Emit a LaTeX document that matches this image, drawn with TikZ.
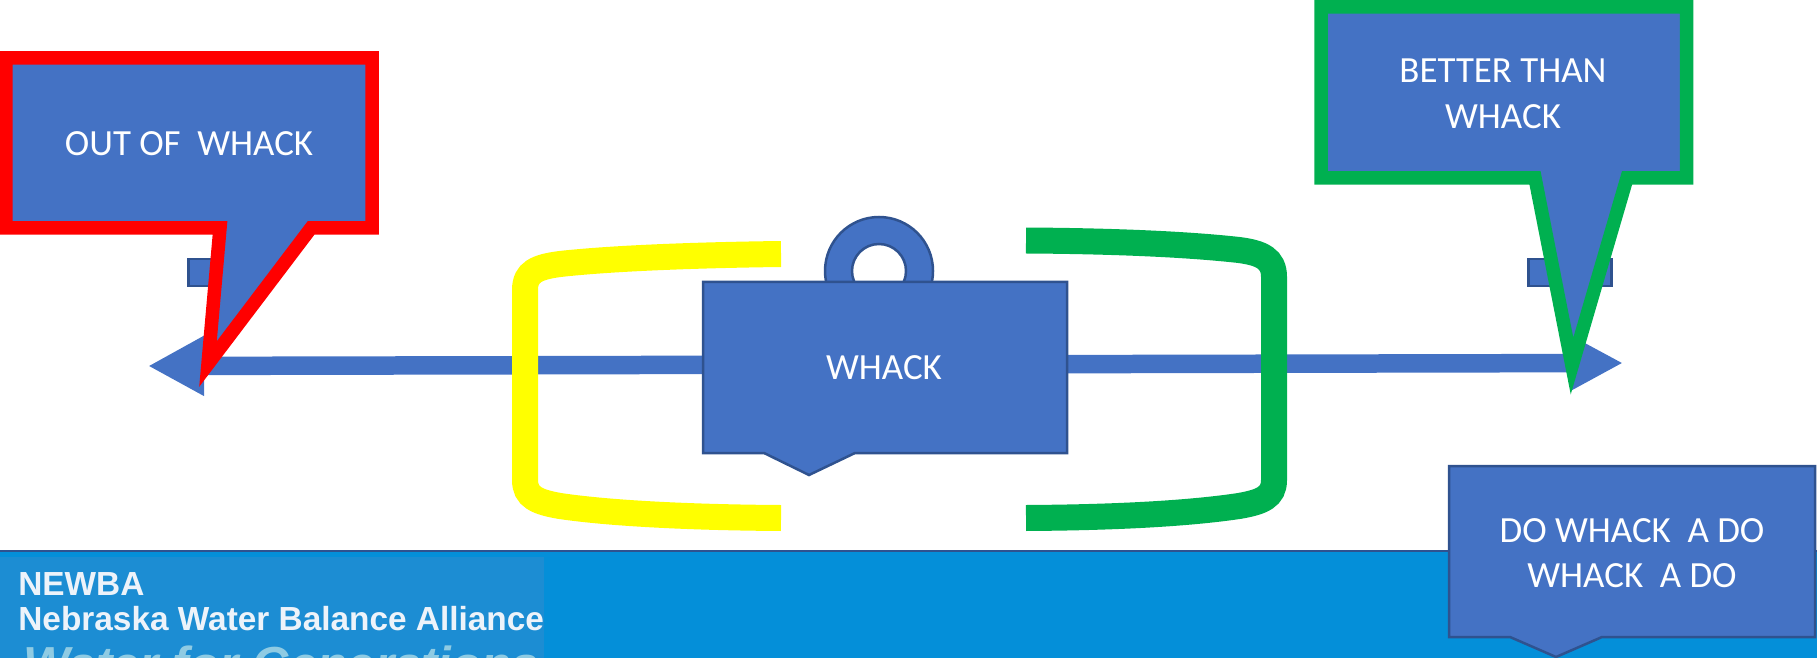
\documentclass[tikz,border=0pt]{standalone}
\usepackage{fontspec}
\setmainfont{Carlito}
\newfontfamily\logofont{Liberation Sans}
\usetikzlibrary{arrows.meta, positioning}
\definecolor{boxblue}{HTML}{4472C4}
\definecolor{boxedge}{HTML}{2F528F}
\definecolor{bandblue}{HTML}{048FD9}
\definecolor{logoblue}{HTML}{1C8DD3}
\definecolor{logotext}{HTML}{EDF3FA}
\definecolor{logotag}{HTML}{8FCBE3}
\definecolor{okgreen}{HTML}{00B050}
\definecolor{lowyellow}{HTML}{FFFF00}
\definecolor{badred}{HTML}{FF0000}

\begin{document}
\begin{tikzpicture}[
    x=0.02cm, y=-0.02cm,
    shapebox/.style={fill=boxblue, draw=boxedge, line width=0.05cm},
    callout/.style={fill=boxblue, line width=0.27cm, line join=miter, miter limit=10},
    bracket/.style={line width=0.52cm},
    caption/.style={font=\fontsize{21}{26}\selectfont, text=white, align=center},
    logoline/.style={font=\logofont\bfseries\fontsize{19}{19}\selectfont, text=logotext, anchor=west, inner sep=0pt}
  ]
  \path[use as bounding box, clip] (0,0) rectangle (1817,658);

  % --- Band and logo ---
  \draw[fill=bandblue, draw=boxedge, line width=0.05cm] (-5,551) rectangle (1825,665);
  \fill[logoblue] (0,557) rectangle (544,665);
  \node[logoline] (logotop) at (18,584) {NEWBA};
  \node[logoline] (logoname) at (18,619) {Nebraska Water Balance Alliance};
  \node[font=\logofont\bfseries\itshape\fontsize{28}{28}\selectfont, text=logotag, anchor=base west, inner sep=0pt]
    (logotag) at (23,681) {Water for Generations};

  % --- Scale line ---
  \coordinate (lefttip) at (148,366);
  \coordinate (righttip) at (1623,363);
  \draw[boxblue, line width=0.37cm, {Triangle[length=1.12cm, width=1.12cm]}-{Triangle[length=1.06cm, width=1.04cm]}]
    (lefttip) -- (righttip);
  \foreach \n/\x in {leftbar/187, rightbar/1527} {
    \node[shapebox, anchor=north west, minimum width=1.66cm, minimum height=0.54cm, inner sep=0pt] (\n) at (\x,258) {};
  }

  % --- Weight ---
  \draw[shapebox, even odd rule] (879,271) circle (54) (879,271) circle (27);
  \draw[shapebox] (703,282) -- (1067,282) -- (1067,453) -- (855,453) -- (809,475) -- (764,453) -- (703,453) -- cycle;
  \node[caption] (whack) at (884,368) {WHACK};

  % --- Brackets ---
  \draw[bracket, lowyellow] (781,254) .. controls (700,255) and (614,258) .. (560,264) .. controls (537,267) and (525,272) .. (525,290)
    -- (525,480) .. controls (525,497) and (537,502) .. (560,506) .. controls (614,514) and (700,517.5) .. (781,518);
  \draw[bracket, okgreen] (1026,240.5) .. controls (1110,241) and (1185,244) .. (1239,250) .. controls (1262,253) and (1274,259) .. (1274,277)
    -- (1274,480) .. controls (1274,497) and (1262,502) .. (1239,506) .. controls (1185,514) and (1110,517.5) .. (1026,518);

  % --- Callouts ---
  \draw[callout, draw=badred] (6,58) -- (372,58) -- (372,228) -- (311,228) -- (208,364) -- (220,228) -- (6,228) -- cycle;
  \node[caption] (outwhack) at (189,144) {OUT OF\ \ WHACK};

  \draw[callout, draw=okgreen] (1321,7) -- (1686.5,7) -- (1686.5,178) -- (1627,178) -- (1572,366) -- (1535,178) -- (1321,178) -- cycle;
  \node[caption] (betterwhack) at (1503,94) {BETTER THAN\\WHACK};

  \draw[shapebox] (1449,466) -- (1815,466) -- (1815,637) -- (1602,637) -- (1556,657) -- (1510,637) -- (1449,637) -- cycle;
  \node[caption] (dowhack) at (1632,553) {DO WHACK\ \ A DO\\WHACK\ \ A DO};

\end{tikzpicture}
\end{document}
